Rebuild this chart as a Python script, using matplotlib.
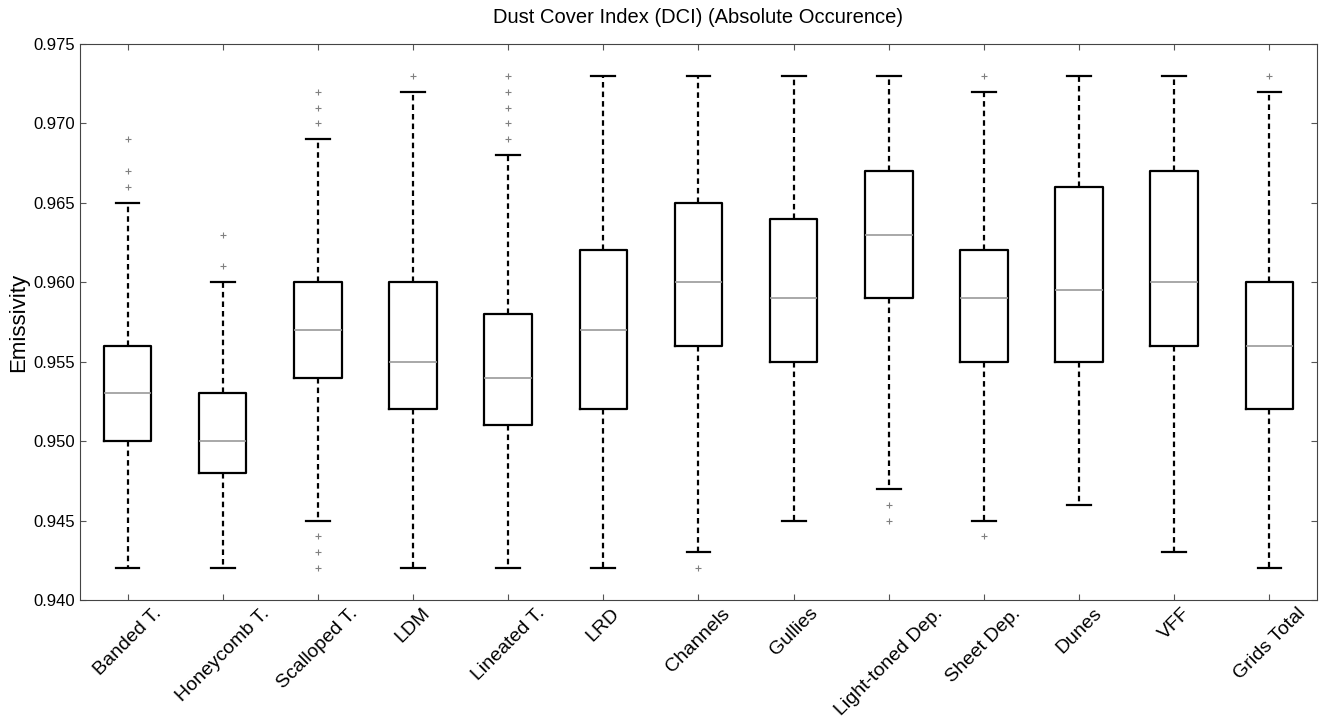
import matplotlib
matplotlib.use("Agg")
import matplotlib.pyplot as plt

plt.rcParams["font.family"] = ["Liberation Sans", "DejaVu Sans"]

labels = ["Banded T.", "Honeycomb T.", "Scalloped T.", "LDM", "Lineated T.", "LRD",
          "Channels", "Gullies", "Light-toned Dep.", "Sheet Dep.", "Dunes", "VFF", "Grids Total"]
whislo = [0.942, 0.942, 0.945, 0.942, 0.942, 0.942, 0.943, 0.945, 0.947, 0.945, 0.946, 0.943, 0.942]
q1 = [0.950, 0.948, 0.954, 0.952, 0.951, 0.952, 0.956, 0.955, 0.959, 0.955, 0.955, 0.956, 0.952]
med = [0.953, 0.950, 0.957, 0.955, 0.954, 0.957, 0.960, 0.959, 0.963, 0.959, 0.9595, 0.960, 0.956]
q3 = [0.956, 0.953, 0.960, 0.960, 0.958, 0.962, 0.965, 0.964, 0.967, 0.962, 0.966, 0.967, 0.960]
whishi = [0.965, 0.960, 0.969, 0.972, 0.968, 0.973, 0.973, 0.973, 0.973, 0.972, 0.973, 0.973, 0.972]
fliers = [
    [0.966, 0.967, 0.969],
    [0.961, 0.963],
    [0.970, 0.971, 0.972, 0.944, 0.943, 0.942],
    [0.973],
    [0.969, 0.970, 0.971, 0.972, 0.973],
    [],
    [0.942],
    [],
    [0.946, 0.945],
    [0.973, 0.944],
    [],
    [],
    [0.973],
]

stats = []
for i in range(len(labels)):
    stats.append({"label": labels[i], "whislo": whislo[i], "q1": q1[i], "med": med[i],
                  "q3": q3[i], "whishi": whishi[i], "fliers": fliers[i]})

fig = plt.figure(figsize=(13.24, 7.26), dpi=100)
ax = fig.add_axes([0.0604, 0.1736, 0.9343, 0.7658])

ax.bxp(stats, widths=0.5, showfliers=True,
       boxprops=dict(color="black", linewidth=1.6),
       whiskerprops=dict(color="black", linewidth=1.6, linestyle="--", dashes=(2.5, 1.8)),
       capprops=dict(color="black", linewidth=1.6),
       medianprops=dict(color="#9a9a9a", linewidth=1.2),
       flierprops=dict(marker="+", markeredgecolor="#808080", markersize=5, markeredgewidth=0.8))

ax.set_xlim(0.5, len(labels) + 0.5)
ax.set_ylim(0.940, 0.975)
ax.set_yticks([0.940, 0.945, 0.950, 0.955, 0.960, 0.965, 0.970, 0.975])
ax.set_yticklabels(["%.3f" % v for v in ax.get_yticks()], fontsize=12)
ax.set_xticklabels(labels, rotation=45, ha="center", fontsize=14)
ax.tick_params(direction="in", top=True, right=True, length=4, color="#555555")
for s in ax.spines.values():
    s.set_color("#444444")

ax.set_ylabel("Emissivity", fontsize=16, labelpad=3)
ax.set_title("Dust Cover Index (DCI) (Absolute Occurence)", fontsize=14.5, pad=15)

fig.savefig("out.png", dpi=100)
